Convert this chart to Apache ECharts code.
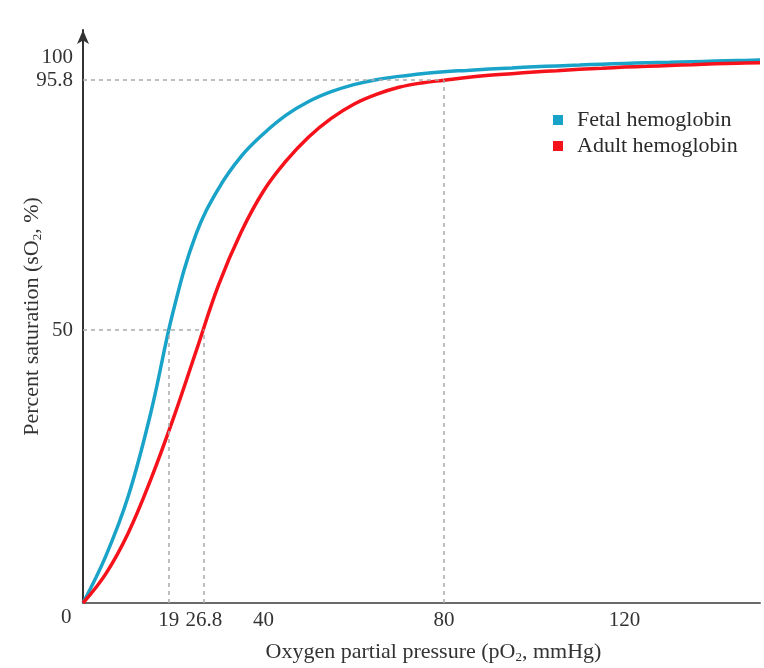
<!DOCTYPE html>
<html>
<head>
<meta charset="utf-8">
<script src="https://cdn.jsdelivr.net/npm/echarts@6/dist/echarts.min.js"></script>
<style>html,body{margin:0;padding:0;background:#fff}#c{width:764px;height:668px}</style>
</head>
<body>
<div id="c"></div>
<script>
// Data (pO2 in mmHg, saturation in %)
var pressure = [0, 5, 10, 15, 20, 25, 30, 35, 40, 45, 50, 55, 60, 65, 70, 75, 80, 85, 90, 95, 100, 105, 110, 115, 120, 125, 130, 135, 140, 145, 150];
var fetalSat = [0, 8.5, 19.5, 34.8, 53.5, 67.5, 75.9, 81.8, 86, 89.4, 91.9, 93.7, 95.0, 95.9, 96.5, 97.0, 97.35, 97.6, 97.85, 98.05, 98.25, 98.42, 98.58, 98.74, 98.88, 99.0, 99.1, 99.2, 99.3, 99.4, 99.5];
var adultSat = [0, 5.3, 12.8, 22.6, 33.8, 46, 58.2, 67.9, 75.5, 81, 85.4, 88.8, 91.4, 93.2, 94.5, 95.3, 95.8, 96.3, 96.7, 97.0, 97.3, 97.55, 97.8, 98.0, 98.2, 98.35, 98.5, 98.65, 98.8, 98.9, 99.0];
var xTicks = [19, 26.8, 40, 80, 120];
var yTicks = [50, 95.8, 100];
var seriesNames = ['Fetal hemoglobin', 'Adult hemoglobin'];
var guides = [
  [[0, 95.8], [80, 95.8]],
  [[80, 0], [80, 95.8]],
  [[0, 50], [26.8, 50]],
  [[19, 0], [19, 50]],
  [[26.8, 0], [26.8, 50]]
];

function zip(a, b) { return a.map(function (v, i) { return [v, b[i]]; }); }

var FONT = '"Liberation Serif", "DejaVu Serif", serif';
var richSub = {
  b: { fontFamily: FONT, fontSize: 22, color: '#333' },
  s: { fontFamily: FONT, fontSize: 13, color: '#333', verticalAlign: 'bottom', padding: [10, 0, 0, 0] }
};
var chart = echarts.init(document.getElementById('c'), null, { renderer: 'canvas' });
chart.setOption({
  backgroundColor: '#fff',
  animation: false,
  grid: { left: 83, right: 4, top: 30, bottom: 65, containLabel: false, outerBoundsMode: 'none' },
  legend: {
    orient: 'vertical', left: 548, top: 104,
    itemWidth: 10, itemHeight: 10, itemGap: 4, icon: 'rect',
    textStyle: { fontFamily: FONT, fontSize: 22, color: '#2a2a2a', padding: [0, 0, 0, 9] },
    data: seriesNames
  },
  xAxis: {
    type: 'value', min: 0, max: 150,
    name: '{b|Oxygen partial pressure (pO}{s|2}{b|, mmHg)}',
    nameLocation: 'middle', nameGap: 38, nameMoveOverlap: false,
    nameTextStyle: { fontFamily: FONT, fontSize: 22, color: '#333', padding: [0, 0, 0, 24], rich: richSub },
    axisLine: { show: true, onZero: false, lineStyle: { color: '#6a6a6a', width: 2 } },
    axisTick: { show: false },
    splitLine: { show: false },
    axisLabel: { customValues: xTicks, margin: 7, fontFamily: FONT, fontSize: 21, color: '#333' }
  },
  yAxis: {
    type: 'value', min: 0, max: 105,
    name: '{b|Percent saturation (sO}{s|2}{b|, %)}',
    nameLocation: 'middle', nameGap: 39, nameRotate: 90, nameMoveOverlap: false,
    nameTextStyle: { fontFamily: FONT, fontSize: 22, color: '#333', rich: richSub },
    axisLine: { show: true, onZero: false, symbol: ['none', 'arrow'], symbolSize: [9, 14], lineStyle: { color: '#333', width: 2 } },
    axisTick: { show: false },
    splitLine: { show: false },
    axisLabel: { customValues: yTicks, margin: 10, fontFamily: FONT, fontSize: 21, color: '#333' }
  },
  graphic: [{
    type: 'text', left: 61, top: 607,
    style: { text: '0', fontFamily: FONT, fontSize: 21, fill: '#333' }
  }],
  series: [
    {
      name: seriesNames[0], type: 'line', smooth: 0.4, showSymbol: false, z: 3,
      data: zip(pressure, fetalSat),
      itemStyle: { color: '#1aa3c8' },
      lineStyle: { color: '#1aa3c8', width: 3.5 },
      markLine: {
        silent: true, symbol: ['none', 'none'], label: { show: false },
        lineStyle: { color: '#aaaaaa', type: [4, 4], width: 1.5 },
        emphasis: { disabled: true },
        data: guides.map(function (g) { return [{ coord: g[0] }, { coord: g[1] }]; })
      }
    },
    {
      name: seriesNames[1], type: 'line', smooth: 0.4, showSymbol: false, z: 4,
      data: zip(pressure, adultSat),
      itemStyle: { color: '#f5121b' },
      lineStyle: { color: '#f5121b', width: 3.5 }
    }
  ]
});
</script>
</body>
</html>
